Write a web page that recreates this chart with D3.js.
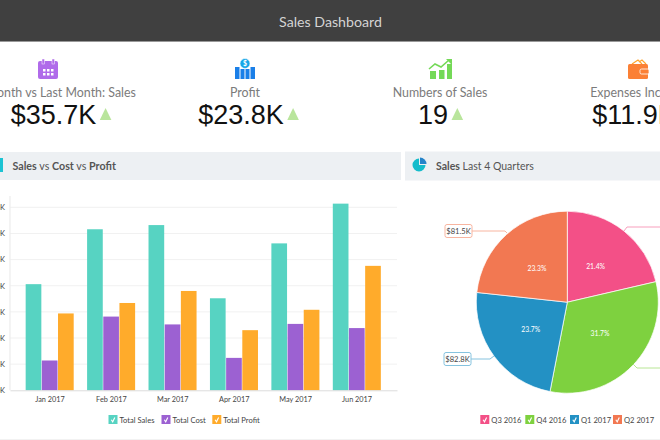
<!DOCTYPE html>
<html>
<head>
<meta charset="utf-8">
<style>
  html, body { margin: 0; padding: 0; background: #fff; overflow: hidden; }
  svg { display: block; }
  text { font-family: Lato, "Open Sans", sans-serif; }
</style>
<script src="https://cdn.jsdelivr.net/npm/d3@7"></script>
</head>
<body>
<svg id="chart" width="660" height="440"></svg>
<script>
// bar chart data, in $K
const months = ["Jan 2017", "Feb 2017", "Mar 2017", "Apr 2017", "May 2017", "Jun 2017"];
const totalSales = [20.3, 30.8, 31.6, 17.6, 28.1, 35.7];
const totalCost = [5.7, 14.1, 12.6, 6.2, 12.7, 11.9];
const totalProfit = [14.7, 16.7, 19.0, 11.5, 15.4, 23.8];
const barSeries = ["Total Sales", "Total Cost", "Total Profit"];
const yTicks = [0, 5, 10, 15, 20, 25, 30, 35];

// pie chart data
const quarters = ["Q3 2016", "Q4 2016", "Q1 2017", "Q2 2017"];
const quarterSales = [74.8, 110.8, 82.8, 81.5];
const quarterShare = ["21.4%", "31.7%", "23.7%", "23.3%"];

// kpi row
const kpiTitles = ["This Month vs Last Month: Sales", "Profit", "Numbers of Sales", "Expenses Incurred"];
const kpiValues = ["$35.7K", "$23.8K", "19", "$11.9K"];

const barColors = ["#57d3c2", "#9c61d2", "#ffab2b"];
const pieColors = ["#f35087", "#7ed13f", "#2391c4", "#f27852"];

const svg = d3.select("#chart");

// header
svg.append("rect").attr("width", 660).attr("height", 41).attr("fill", "#404040");
svg.append("rect").attr("y", 41).attr("width", 660).attr("height", 1).attr("fill", "#999");
svg.append("text")
  .attr("x", 330.5).attr("y", 27)
  .attr("text-anchor", "middle")
  .attr("fill", "#d4d4d4")
  .attr("font-size", 14.2)
  .text("Sales Dashboard");

// kpi row
const kpiCenters = [48, 245, 440, 640];
const kpiValueCenters = [53.5, 241, 433, 634];
kpiTitles.forEach((t, i) => {
  svg.append("text")
    .attr("x", kpiCenters[i]).attr("y", 97)
    .attr("text-anchor", "middle")
    .attr("fill", "#7b7b7b")
    .attr("font-size", 12.4)
    .text(t);

  const val = svg.append("text")
    .attr("x", kpiValueCenters[i]).attr("y", 124.3)
    .attr("text-anchor", "middle")
    .attr("fill", "#111")
    .attr("font-size", 27)
    .style("font-family", "'Liberation Sans', sans-serif")
    .text(kpiValues[i]);

  const right = kpiValueCenters[i] + val.node().getComputedTextLength() / 2 + 3.5;
  svg.append("path")
    .attr("d", `M${right},120 L${right + 11.6},120 L${right + 5.8},108 Z`)
    .attr("fill", "#b9e59c");
});

// kpi icons
const calendar = svg.append("g").attr("transform", "translate(38,59)");
calendar.append("rect").attr("y", 2).attr("width", 20).attr("height", 18).attr("rx", 2).attr("fill", "#b06bea");
calendar.selectAll(".peg").data([4, 14]).join("rect")
  .attr("x", d => d).attr("width", 2.5).attr("height", 5).attr("fill", "#b06bea").attr("stroke", "#fff").attr("stroke-width", 0.5);
d3.cross([5, 9, 13], [10, 14]).forEach(([x, y]) => {
  calendar.append("rect").attr("x", x).attr("y", y).attr("width", 2.5).attr("height", 2.5).attr("fill", "#fff");
});

const moneyBars = svg.append("g").attr("transform", "translate(235,59)");
[[0, 8, 4.5], [5.5, 10, 4], [10.5, 10, 4], [15.5, 8, 4.5]].forEach(([x, y, w]) => {
  moneyBars.append("rect").attr("x", x).attr("y", y).attr("width", w).attr("height", 20 - y).attr("fill", "#1a7fe8");
});
moneyBars.append("circle").attr("cx", 10).attr("cy", 4.5).attr("r", 5).attr("fill", "#18a7e8").attr("stroke", "#fff").attr("stroke-width", 0.6);
moneyBars.append("text").attr("x", 10).attr("y", 7).attr("text-anchor", "middle").attr("fill", "#fff").attr("font-size", 7).attr("font-weight", 700).text("$");

const growth = svg.append("g").attr("transform", "translate(429,59)");
[[1, 12, 6], [10, 11, 5.5], [18, 5, 5]].forEach(([x, y, w]) => {
  growth.append("rect").attr("x", x).attr("y", y).attr("width", w).attr("height", 20 - y).attr("fill", "#74d957");
});
growth.append("path").attr("d", "M0,10 L6,5 L12,8 L20,1").attr("fill", "none").attr("stroke", "#74d957").attr("stroke-width", 1.6);
growth.append("path").attr("d", "M17,0 L23,0 L23,6 Z").attr("fill", "#74d957");

const wallet = svg.append("g").attr("transform", "translate(628,59)");
wallet.append("path").attr("d", "M4,5 L10,1 L14,5 M11,3 L14,1 L18,5").attr("fill", "none").attr("stroke", "#ffa52e").attr("stroke-width", 1.2);
wallet.append("rect").attr("y", 5).attr("width", 20).attr("height", 15).attr("rx", 1.5).attr("fill", "#fb8035");
wallet.append("rect").attr("x", 12).attr("y", 10).attr("width", 9).attr("height", 5).attr("rx", 1.5).attr("fill", "#fb8035").attr("stroke", "#fff").attr("stroke-width", 0.8);

// panel headers
svg.append("rect").attr("y", 152).attr("width", 401).attr("height", 28).attr("fill", "#edf0f3");
svg.append("rect").attr("x", 405).attr("y", 151.5).attr("width", 255).attr("height", 29).attr("fill", "#edf0f3");

svg.append("rect").attr("x", 0).attr("y", 158).attr("width", 3).attr("height", 14).attr("fill", "#1cc3d3");

const leftTitle = svg.append("text").attr("x", 12.5).attr("y", 170).attr("font-size", 10.7).attr("fill", "#555");
[["Sales", 700], [" vs ", 400], ["Cost", 700], [" vs ", 400], ["Profit", 700]].forEach(([t, w]) => {
  leftTitle.append("tspan").attr("font-weight", w).text(t);
});
const rightTitle = svg.append("text").attr("x", 436).attr("y", 170).attr("font-size", 10.5).attr("fill", "#555");
[["Sales", 700], [" Last 4 Quarters", 400]].forEach(([t, w]) => {
  rightTitle.append("tspan").attr("font-weight", w).text(t);
});

const pieIcon = d3.arc().innerRadius(0).outerRadius(6.5);
svg.append("path").attr("transform", "translate(419,165)")
  .attr("d", pieIcon({ startAngle: Math.PI / 2, endAngle: Math.PI * 2 })).attr("fill", "#14bccb");
svg.append("path").attr("transform", "translate(420,164)")
  .attr("d", pieIcon({ startAngle: 0, endAngle: Math.PI / 2 })).attr("fill", "#2583c9");

// bars
const x0 = d3.scaleBand().domain(months).range([10, 397]).paddingInner(0.21).paddingOuter(0.255);
const x1 = d3.scaleBand().domain(barSeries).range([0, x0.bandwidth()]);
const y = d3.scaleLinear().domain([0, 35]).range([390.3, 207.3]);

svg.append("g").selectAll("line").data(yTicks.slice(1)).join("line")
  .attr("x1", 10).attr("x2", 397)
  .attr("y1", d => y(d)).attr("y2", d => y(d))
  .attr("stroke", "#f1f1f1");

svg.append("line").attr("x1", 10).attr("x2", 10).attr("y1", 196).attr("y2", 390.3).attr("stroke", "#ececec").attr("stroke-width", 1.2);

const yAxis = svg.append("g")
  .attr("transform", "translate(10,0)")
  .call(d3.axisLeft(y).tickValues(yTicks).tickSize(0).tickPadding(5).tickFormat(d => `$${d}K`));
yAxis.select(".domain").remove();
yAxis.selectAll("text").attr("font-size", 7.5).attr("fill", "#444").style("font-family", "Lato, sans-serif");

const barGroups = svg.append("g").selectAll("g").data(months).join("g")
  .attr("transform", d => `translate(${x0(d)},0)`);
barGroups.selectAll("rect")
  .data((d, i) => [totalSales[i], totalCost[i], totalProfit[i]].map((v, j) => ({ v, j })))
  .join("rect")
  .attr("x", d => x1(barSeries[d.j]))
  .attr("y", d => y(d.v))
  .attr("width", x1.bandwidth() - 0.5)
  .attr("height", d => y(0) - y(d.v))
  .attr("fill", d => barColors[d.j]);

const xAxis = svg.append("g")
  .attr("transform", "translate(0,390.3)")
  .call(d3.axisBottom(x0).tickSize(0).tickPadding(7));
xAxis.select(".domain").attr("stroke", "#dcdcdc");
xAxis.selectAll("text").attr("font-size", 7.3).attr("fill", "#444").style("font-family", "Lato, sans-serif");

// legends
function legend(names, colors, xs) {
  names.forEach((n, i) => {
    const g = svg.append("g").attr("transform", `translate(${xs[i]},415)`);
    g.append("rect").attr("width", 9).attr("height", 9).attr("fill", colors[i]);
    g.append("path").attr("d", "M2.8,4.8 L4.2,6.8 L6.3,2.4").attr("fill", "none").attr("stroke", "#fff").attr("stroke-width", 1.1);
    g.append("text").attr("x", 11).attr("y", 7.8).attr("font-size", 7.6).attr("fill", "#444").text(n);
  });
}
legend(barSeries, barColors, [108.5, 161.5, 212.3]);
legend(quarters, pieColors, [480.3, 525.3, 570, 613]);

// pie
const pieG = svg.append("g").attr("transform", "translate(567.3,302.2)");
const arcs = d3.pie().sort(null)(quarterSales);
const arc = d3.arc().innerRadius(0).outerRadius(91);

// callouts, the boxes of the two right hand ones lie past the page edge
const callouts = [
  { x: 663, y: 227, ex: 624, ey: 231, bend: 627, label: null },
  { x: 663, y: 368, ex: 633, ey: 364, bend: 637, label: null },
  { x: 444, y: 359, ex: 494, ey: 356, bend: 490, label: "$82.8K" },
  { x: 445, y: 231, ex: 507, ey: 233, bend: 505, label: "$81.5K" }
];
callouts.forEach((c, i) => {
  const tint = d3.interpolateRgb(pieColors[i], "#fff")(0.45);
  const boxW = 27;
  svg.append("path")
    .attr("d", `M${c.label ? c.x + boxW : c.x},${c.y} L${c.bend},${c.y} L${c.ex},${c.ey}`)
    .attr("fill", "none").attr("stroke", tint);
  if (!c.label) return;
  svg.append("rect")
    .attr("x", c.x).attr("y", c.y - 6.5)
    .attr("width", boxW).attr("height", 13).attr("rx", 2)
    .attr("fill", "#fff").attr("stroke", tint);
  svg.append("text")
    .attr("x", c.x + boxW / 2).attr("y", c.y + 3)
    .attr("text-anchor", "middle")
    .attr("font-size", 7.6).attr("fill", "#444")
    .text(c.label);
});

pieG.selectAll("path").data(arcs).join("path")
  .attr("d", arc)
  .attr("fill", (d, i) => pieColors[i])
  .attr("stroke", "#fff")
  .attr("stroke-width", 0.7);

pieG.selectAll("text").data(arcs).join("text")
  .attr("transform", d => `translate(${arc.centroid(d)})`)
  .attr("text-anchor", "middle")
  .attr("dy", 2.5)
  .attr("font-size", 6.8)
  .attr("fill", "#fff")
  .text((d, i) => quarterShare[i]);

// faint rule along the bottom
svg.append("rect").attr("y", 439).attr("width", 660).attr("height", 1).attr("fill", "#f2f2f2");
</script>
</body>
</html>
